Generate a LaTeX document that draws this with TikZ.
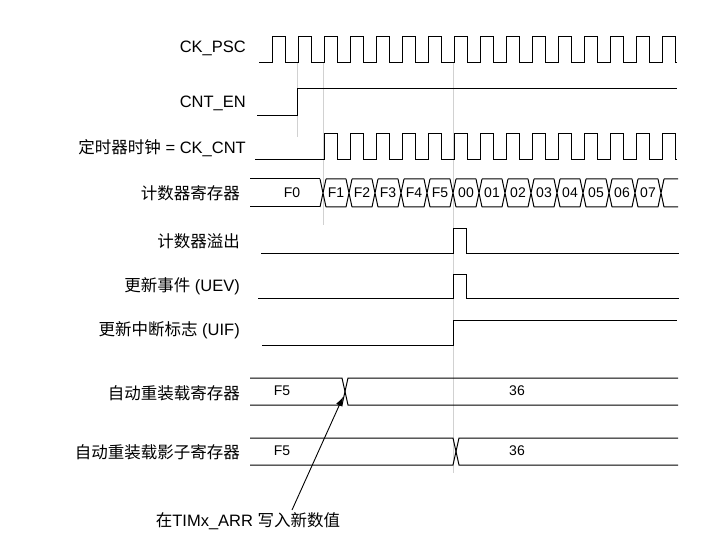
\documentclass[tikz,border=0pt]{standalone}
\usepackage{fontspec}
\setmainfont{Liberation Sans}
\newfontfamily\cjk{Noto Sans CJK SC}
\usetikzlibrary{arrows.meta}
\begin{document}
\begin{tikzpicture}[x=1pt,y=-1pt,
  wave/.style={line width=1pt,black},
  guide/.style={line width=0.8pt,black!18},
  lab/.style={anchor=east,inner sep=0pt,font=\fontsize{16.5}{18}\selectfont},
  val/.style={inner sep=0pt,font=\fontsize{14}{16}\selectfont}]
\useasboundingbox (0,0) rectangle (712,548);
% guides
\draw[guide] (297,63) -- (297,137);
\draw[guide] (323,63) -- (323,225);
\draw[guide] (453,63) -- (453,473);
% labels
\node[lab] (l1) at (246,48) {CK\_PSC};
\node[lab] (l2) at (246,103) {CNT\_EN};
\node[lab] (l3) at (246,148) {{\cjk 定时器时钟} = CK\_CNT};
\node[lab] (l4) at (240,193) {\cjk 计数器寄存器};
\node[lab] (l5) at (240,241) {\cjk 计数器溢出};
\node[lab] (l6) at (240,286) {{\cjk 更新事件} (UEV)};
\node[lab] (l7) at (240,330) {{\cjk 更新中断标志} (UIF)};
\node[lab] (l8) at (240,393) {\cjk 自动重装载寄存器};
\node[lab] (l9) at (240,452) {\cjk 自动重装载影子寄存器};
% CK_PSC
\draw[wave] (259,63) \foreach \i in {0,...,15}{ -- ({272+26*\i},63) -- ++(0,-26) -- ++(13,0) -- ++(0,26)} -- (677,63);
% CNT_EN
\draw[wave] (257,116) -- (297,116) -- (297,89) -- (677,89);
% CK_CNT
\draw[wave] (255,160) \foreach \i in {0,...,13}{ -- ({324+26*\i},160) -- ++(0,-26) -- ++(13,0) -- ++(0,26)} -- (677,160);
% counter bus
\draw[wave] (250,179) -- (320,179) (250,207) -- (320,207);
\foreach \k in {0,...,12}{
  \pgfmathsetmacro\t{323+26*\k}
  \draw[wave] (\t-3,179) -- (\t+3,207) (\t-3,207) -- (\t+3,179)
    (\t+3,179) -- (\t+23,179) (\t+3,207) -- (\t+23,207);
}
\draw[wave] (658,179) -- (664,207) (658,207) -- (664,179) (664,179) -- (678,179) (664,207) -- (678,207);
\node[val] (v0) at (292,193) {F0};
\foreach \s [count=\k from 0] in {F1,F2,F3,F4,F5,00,01,02,03,04,05,06,07}{
  \node[val] (c\k) at ({336+26*\k},193) {\s};
}
% overflow
\draw[wave] (261,253) -- (453,253) -- (453,229) -- (466,229) -- (466,253) -- (679,253);
% UEV
\draw[wave] (258,298) -- (453,298) -- (453,274) -- (466,274) -- (466,298) -- (679,298);
% UIF
\draw[wave] (262,345) -- (453,345) -- (453,320) -- (677,320);
% ARR
\draw[wave] (250,378) -- (342,378) -- (348,405) -- (678,405);
\draw[wave] (250,405) -- (342,405) -- (348,378) -- (678,378);
\node[val] (a1) at (282,391) {F5};
\node[val] (a2) at (517,391) {36};
% shadow
\draw[wave] (250,438) -- (453,438) -- (459,465) -- (678,465);
\draw[wave] (250,465) -- (453,465) -- (459,438) -- (678,438);
\node[val] (s1) at (282,451) {F5};
\node[val] (s2) at (517,451) {36};
% note
\node[lab,anchor=center] (note) at (248,521) {{\cjk 在}TIMx\_ARR {\cjk 写入新数值}};
\coordinate (tip) at (343,397);
\draw[line width=0.9pt,-{Latex[length=9pt,width=7pt]}] (292,510) -- (tip);
\end{tikzpicture}
\end{document}
